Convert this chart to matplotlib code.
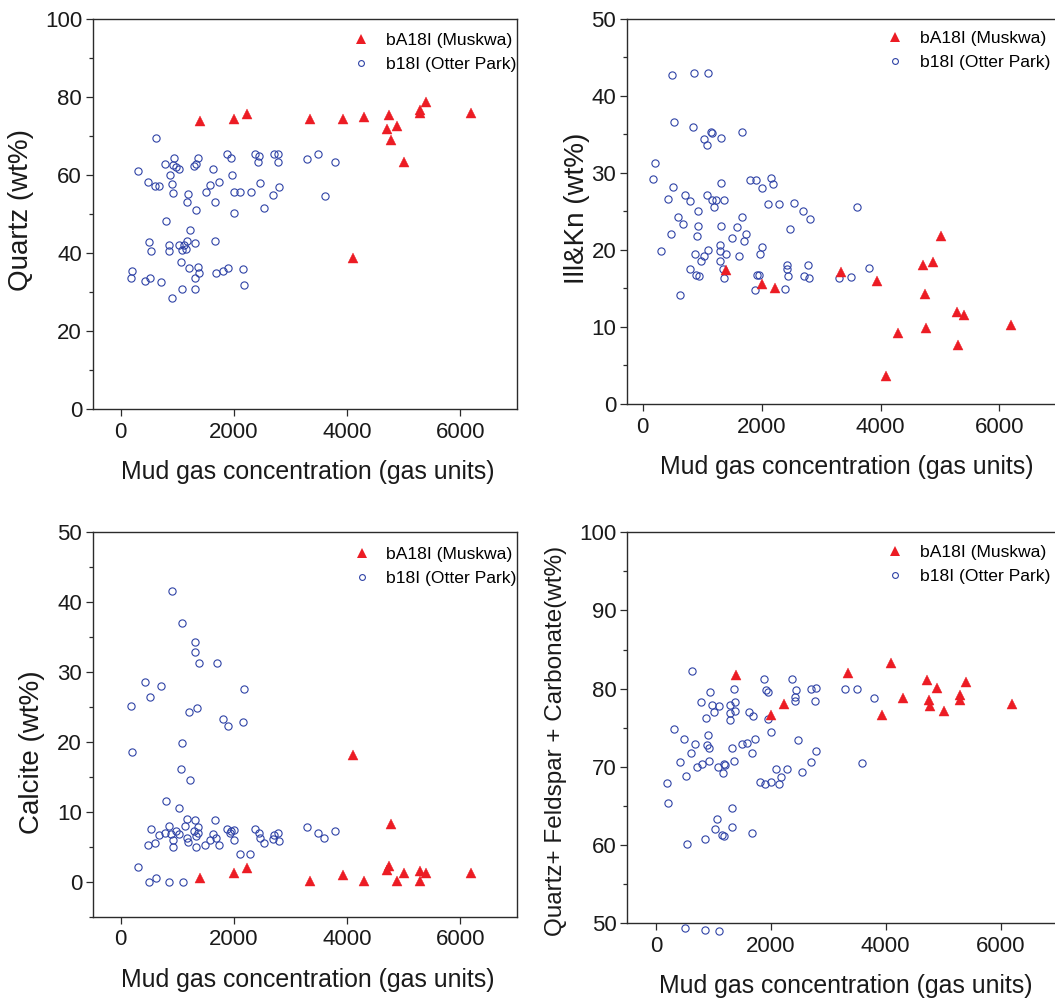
import matplotlib
matplotlib.use("Agg")
import matplotlib.pyplot as plt
from matplotlib.lines import Line2D
from matplotlib.ticker import MultipleLocator

plt.rcParams["font.family"] = ["Liberation Sans", "DejaVu Sans"]

RED = "#ec1c24"
BLUE = "#2f43a6"
AXIS = "#2b2b2b"

MUSKWA_LABEL = "bA18I (Muskwa)"
OTTER_LABEL = "b18I (Otter Park)"
X_LABEL = "Mud gas concentration (gas units)"

# Muskwa samples: gas concentration is shared by all four panels
muskwa_gas = [1400, 2000, 2230, 3340, 3935, 4100, 4295, 4715, 4745, 4770,
              4885, 5015, 5290, 5295, 5400, 6200]
muskwa_quartz = [73.8, 74.4, 75.6, 74.4, 74.4, 38.8, 74.8, 71.8, 75.3, 68.8,
                 72.6, 63.4, 75.8, 76.7, 78.7, 75.7]
muskwa_illkn = [17.4, 15.6, 15.0, 17.1, 15.9, 3.6, 9.2, 18.0, 14.3, 9.9,
                18.4, 21.8, 11.9, 7.7, 11.5, 10.3]
muskwa_calcite = [0.5, 1.3, 1.9, 0.1, 0.9, 18.1, 0.1, 1.7, 2.2, 8.3,
                  0.1, 1.2, 0.1, 1.6, 1.2, 1.3]
muskwa_qfc = [81.8, 76.6, 78.1, 82.0, 76.6, 83.3, 78.8, 81.1, 78.5, 77.8,
              80.1, 77.1, 79.2, 78.6, 80.9, 78.1]

# Otter Park samples
otter_quartz_gas = [626, 301, 783, 933, 916, 980, 1026, 870, 487, 603, 684, 910,
                    922, 1188, 1171, 1322, 1368, 1333, 1293, 1623, 1577, 1728,
                    1501, 1664, 1878, 1948, 1959, 2000, 2104, 2000, 2296, 2377,
                    2446, 2423, 2470, 2539, 2696, 2800, 2701, 2783, 2777, 3299,
                    806, 1217, 504, 528, 858, 858, 1032, 1084, 1113, 1159, 1177,
                    1316, 1669, 1067, 1200, 1357, 1386, 1304, 1687, 1814, 1896,
                    2156, 2180, 203, 180, 423, 516, 707, 1090, 1304, 899, 3493,
                    3790, 3603]
otter_quartz = [69.3, 61.0, 62.8, 64.2, 62.6, 62.1, 61.5, 59.9, 58.2, 57.1, 57.1,
                57.6, 55.3, 55.2, 53.1, 51.0, 64.2, 62.8, 62.2, 61.5, 57.4, 58.2,
                55.5, 53.1, 65.4, 64.2, 59.9, 55.7, 55.7, 50.3, 55.7, 65.4, 64.9,
                63.2, 58.0, 51.5, 54.8, 56.8, 65.4, 65.3, 63.2, 64.1, 48.3, 45.8,
                42.9, 40.6, 42.1, 40.6, 42.0, 40.8, 42.0, 41.1, 43.1, 42.6, 43.1,
                37.8, 36.2, 36.4, 34.9, 33.5, 34.9, 35.4, 36.2, 35.9, 31.9, 35.4,
                33.6, 32.8, 33.5, 32.5, 30.9, 30.7, 28.5, 65.3, 63.4, 54.7]

otter_illkn_gas = [500, 854, 1101, 528, 848, 1140, 1169, 1034, 1073, 1309, 1674,
                   202, 174, 511, 1320, 1809, 1905, 2163, 2185, 2006, 427, 713,
                   803, 1084, 1169, 1225, 1197, 1360, 921, 2101, 2298, 2551, 2702,
                   2809, 601, 680, 927, 910, 483, 1320, 1674, 1579, 1730, 1697,
                   1506, 2472, 309, 871, 1022, 1096, 978, 1303, 1298, 1393, 1303,
                   1624, 2006, 1966, 787, 893, 938, 1354, 1371, 1927, 1961, 1882,
                   629, 2433, 2433, 2449, 2388, 2787, 2713, 2792, 3294, 3496, 3798,
                   3597]
otter_illkn = [42.7, 42.9, 42.9, 36.6, 35.9, 35.3, 35.2, 34.4, 33.6, 34.5, 35.3,
               31.3, 29.2, 28.2, 28.7, 29.0, 29.1, 29.3, 28.5, 28.0, 26.6, 27.1,
               26.3, 27.1, 26.4, 26.4, 25.6, 26.5, 25.0, 26.0, 26.0, 26.1, 25.0,
               24.0, 24.3, 23.3, 23.1, 21.8, 22.1, 23.1, 24.2, 22.9, 22.1, 21.2,
               21.5, 22.7, 19.9, 19.5, 19.2, 20.0, 18.5, 20.6, 19.8, 19.5, 18.5,
               19.2, 20.3, 19.5, 17.5, 16.7, 16.6, 17.5, 16.3, 16.7, 16.7, 14.8,
               14.1, 18.0, 17.5, 16.6, 14.9, 18.0, 16.6, 16.4, 16.4, 16.5, 17.6,
               25.6]

otter_calcite_gas = [899, 1090, 1304, 1304, 1386, 1693, 423, 707, 2180, 516, 180,
                     1351, 1200, 1814, 1896, 2156, 1078, 203, 1067, 1217, 800,
                     1032, 1171, 1310, 1664, 1142, 533, 858, 980, 788, 678, 887,
                     1026, 1368, 1287, 1368, 1328, 1165, 922, 1188, 475, 603, 928,
                     1322, 1496, 1583, 1623, 1675, 1728, 1872, 1942, 2000, 1930,
                     2000, 2377, 2435, 2470, 2539, 2701, 2783, 2696, 2800, 2104,
                     2290, 301, 626, 504, 858, 1101, 3299, 3493, 3598, 3790]
otter_calcite = [41.5, 37.0, 34.3, 32.9, 31.2, 31.3, 28.5, 28.0, 27.6, 26.4, 25.1,
                 24.8, 24.3, 23.2, 22.2, 22.8, 19.8, 18.5, 16.1, 14.5, 11.6, 10.6,
                 9.0, 8.8, 8.8, 8.0, 7.5, 7.9, 7.2, 6.9, 6.7, 6.8, 6.8, 7.8, 7.3,
                 7.0, 6.6, 6.2, 6.0, 5.7, 5.3, 5.5, 4.9, 4.9, 5.2, 6.0, 6.8, 6.2,
                 5.3, 7.6, 7.2, 7.4, 6.9, 6.0, 7.6, 7.0, 6.2, 5.5, 6.7, 7.0, 6.1,
                 5.8, 3.9, 3.9, 2.1, 0.5, 0.0, 0.0, 0.0, 7.8, 7.0, 6.3, 7.3]

otter_qfc_gas = [624, 1364, 936, 780, 971, 1092, 1289, 1370, 1017, 1289, 1381,
                 1295, 867, 1618, 1694, 1873, 1919, 1948, 1954, 2370, 2439, 2422,
                 2422, 2699, 2780, 2769, 1994, 306, 486, 682, 913, 890, 931, 607,
                 422, 514, 711, 798, 925, 1081, 1185, 1208, 1168, 1353, 1318,
                 1497, 1578, 1728, 1665, 2468, 2792, 2694, 2537, 2098, 2283, 2173,
                 1815, 1896, 2000, 2150, 185, 202, 1318, 1069, 1029, 1144, 1179,
                 1318, 855, 1670, 532, 509, 855, 1104, 3297, 3494, 3791, 3593]
otter_qfc = [82.2, 80.0, 79.6, 78.3, 77.9, 77.8, 77.9, 78.3, 77.0, 76.9, 77.2,
             76.0, 76.2, 77.0, 76.5, 81.3, 79.8, 79.6, 76.1, 81.3, 79.8, 78.9,
             78.4, 79.9, 80.1, 78.4, 74.5, 74.9, 73.6, 72.9, 74.1, 72.8, 72.4,
             71.8, 70.6, 68.9, 70.0, 70.4, 70.8, 70.0, 70.4, 70.2, 69.2, 70.8,
             72.4, 72.9, 73.0, 73.6, 71.8, 73.4, 72.0, 70.6, 69.3, 69.7, 69.7,
             68.7, 68.1, 67.8, 68.1, 67.8, 68.0, 65.4, 64.8, 63.3, 62.1, 61.3,
             61.1, 62.3, 60.8, 61.5, 60.1, 49.4, 49.1, 49.0, 80.0, 80.0, 78.8,
             70.5]

W, H = 1055, 1005


def add_panel(fig, box, xlim, ylim, major, minor, ylabel, ylabel_pos, ylabel_size,
              legend_pos, otter_x, otter_y, muskwa_y):
    left, top, right, bottom = box
    ax = fig.add_axes([left / W, 1 - bottom / H, (right - left) / W, (bottom - top) / H])

    # blue open circles are allowed to hang below the frame
    ax.plot(otter_x, otter_y, "o", ls="none", ms=5.2, mfc="none", mec=BLUE,
            mew=0.8, clip_on=False, zorder=3)
    ax.plot(muskwa_gas, muskwa_y, "^", ls="none", ms=7.4, color=RED,
            mec=RED, mew=0.3, zorder=4)

    ax.set_xlim(*xlim)
    ax.set_ylim(*ylim)
    ax.xaxis.set_major_locator(MultipleLocator(2000))
    ax.yaxis.set_major_locator(MultipleLocator(major))
    ax.yaxis.set_minor_locator(MultipleLocator(minor))
    ax.tick_params(axis="both", which="major", direction="out", length=5,
                   width=0.9, color=AXIS, labelsize=16, labelcolor="#1a1a1a")
    ax.tick_params(axis="y", which="major", pad=2.5)
    ax.tick_params(axis="x", which="major", pad=4)
    ax.tick_params(axis="y", which="minor", direction="out", length=2.6,
                   width=0.9, color=AXIS)
    for sp in ax.spines.values():
        sp.set_color(AXIS)
        sp.set_linewidth(1.0)

    ax.set_xlabel(X_LABEL, fontsize=17.9, color="#1a1a1a", va="center")
    ax.xaxis.set_label_coords(0.5 + 3.5 / (right - left), -63 / (bottom - top))

    # y label centre given in figure pixels
    lx, ly = ylabel_pos
    ax.set_ylabel(ylabel, fontsize=ylabel_size, color="#1a1a1a", va="center")
    ax.yaxis.set_label_coords((lx - left) / (right - left),
                              (bottom - ly) / (bottom - top))

    handles = [
        Line2D([], [], marker="^", ls="none", ms=6.6, color=RED, mew=0),
        Line2D([], [], marker="o", ls="none", ms=4.2, mfc="none", mec=BLUE, mew=0.8),
    ]
    gx, gy = legend_pos
    ax.legend(handles, [MUSKWA_LABEL, OTTER_LABEL], loc="upper right",
              bbox_to_anchor=(gx / W, 1 - gy / H), bbox_transform=fig.transFigure,
              frameon=False, fontsize=12.6, handlelength=1.0, handletextpad=0.9,
              labelspacing=0.5, borderaxespad=0, borderpad=0)
    return ax


fig = plt.figure(figsize=(W / 100, H / 100), dpi=100)

add_panel(fig, (92.5, 18.5, 516.7, 409.3), (-500, 7000), (0, 100), 20, 10,
          "Quartz (wt%)", (21, 210), 20, (516, 33),
          otter_quartz_gas, otter_quartz, muskwa_quartz)
add_panel(fig, (626.7, 18.5, 1058.9, 404.0), (-270, 7000), (0, 50), 10, 5,
          "Ill&Kn (wt%)", (577, 208), 20, (1050, 31),
          otter_illkn_gas, otter_illkn, muskwa_illkn)
add_panel(fig, (92.5, 532.0, 516.7, 916.7), (-500, 7000), (-5, 50), 10, 5,
          "Calcite (wt%)", (32, 752), 20, (517, 547),
          otter_calcite_gas, otter_calcite, muskwa_calcite)
add_panel(fig, (627.3, 532.3, 1058.0, 923.3), (-500, 7000), (50, 100), 10, 5,
          "Quartz+ Feldspar + Carbonate(wt%)", (556, 741), 17.5, (1050, 545),
          otter_qfc_gas, otter_qfc, muskwa_qfc)

fig.savefig("out.png", dpi=100, facecolor="white")
